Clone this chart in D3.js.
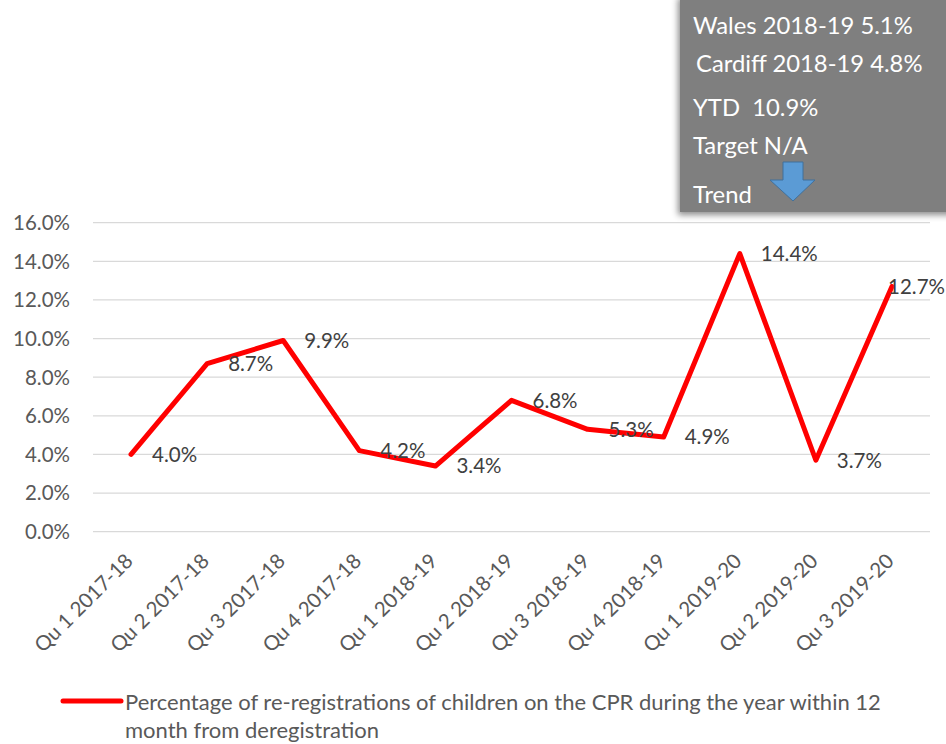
<!DOCTYPE html>
<html><head><meta charset="utf-8">
<script src="https://cdn.jsdelivr.net/npm/d3@7"></script>
<style>body{margin:0;background:#fff;}svg{display:block;font-family:Lato,"Open Sans",sans-serif;}</style>
</head><body>
<svg id="c" width="946" height="744"></svg>
<script>
const categories = ["Qu 1 2017-18","Qu 2 2017-18","Qu 3 2017-18","Qu 4 2017-18","Qu 1 2018-19","Qu 2 2018-19","Qu 3 2018-19","Qu 4 2018-19","Qu 1 2019-20","Qu 2 2019-20","Qu 3 2019-20"];
const values = [4.0, 8.7, 9.9, 4.2, 3.4, 6.8, 5.3, 4.9, 14.4, 3.7, 12.7];
const yTicks = [0,2,4,6,8,10,12,14,16];
const seriesName = ["Percentage of re-registrations of children on the CPR during the year within 12","month from deregistration"];
const infoLines = ["Wales 2018-19 5.1%","Cardiff 2018-19 4.8%","YTD  10.9%","Target N/A","Trend"];

const svg = d3.select("#c");
const x = d3.scaleBand().domain(categories).range([93, 930]);
const y = d3.scaleLinear().domain([0,16]).range([531.7, 222.7]);

// gridlines
svg.append("g").selectAll("line").data(yTicks).join("line")
  .attr("x1",93).attr("x2",930).attr("y1",d=>y(d)).attr("y2",d=>y(d))
  .attr("stroke","#d9d9d9").attr("stroke-width",1.3);

// y labels
svg.append("g").selectAll("text").data(yTicks).join("text")
  .attr("x",70).attr("y",d=>y(d)).attr("dy","0.36em").attr("text-anchor","end")
  .attr("fill","#595959").attr("font-size",20.5).text(d=>d.toFixed(1)+"%");

// x labels
svg.append("g").selectAll("text").data(categories).join("text")
  .attr("transform",d=>`translate(${x(d)+x.bandwidth()/2-2},${557}) rotate(-45)`)
  .attr("text-anchor","end").attr("dy","0.36em")
  .attr("fill","#595959").attr("font-size",20.5).text(d=>d);

// line
const cx = (d,i)=>x(categories[i])+x.bandwidth()/2;
svg.append("path").datum(values)
  .attr("d", d3.line().x((d,i)=>cx(d,i)).y(d=>y(d)))
  .attr("fill","none").attr("stroke","#ff0000").attr("stroke-width",5)
  .attr("stroke-linejoin","round").attr("stroke-linecap","round");

// data labels
svg.append("g").selectAll("text").data(values).join("text")
  .attr("x",(d,i)=>cx(d,i)+21).attr("y",d=>y(d)).attr("dy","0.36em")
  .attr("fill","#404040").attr("font-size",20.5).text(d=>d.toFixed(1)+"%")
  .each(function(){
    const w = this.getComputedTextLength();
    const x0 = +this.getAttribute("x");
    if (x0 + w > 945) this.setAttribute("x", 945 - w);
  });

// legend
svg.append("line").attr("x1",63).attr("x2",121).attr("y1",701).attr("y2",701)
  .attr("stroke","#ff0000").attr("stroke-width",5).attr("stroke-linecap","round");
svg.append("g").selectAll("text").data(seriesName).join("text")
  .attr("x",125).attr("y",(d,i)=>702+i*28).attr("dy","0.36em")
  .attr("fill","#595959").attr("font-size",22).text(d=>d);

// info box
const defs = svg.append("defs");
const f = defs.append("filter").attr("id","sh").attr("x","-10%").attr("y","-10%").attr("width","130%").attr("height","130%");
f.append("feDropShadow").attr("dx",-2).attr("dy",3).attr("stdDeviation",3).attr("flood-color","#000").attr("flood-opacity",0.45);
svg.append("rect").attr("x",680).attr("y",-5).attr("width",280).attr("height",217)
  .attr("fill","#7f7f7f").attr("filter","url(#sh)");
const infoY = [25,63,107,145,194];
const infoX = [693,696,693,693,693];
svg.append("g").selectAll("text").data(infoLines).join("text")
  .attr("x",(d,i)=>infoX[i]).attr("y",(d,i)=>infoY[i]).attr("dy","0.36em")
  .attr("fill","#fff").attr("font-size",23.8).style("white-space","pre").text(d=>d);
// arrow
svg.append("path")
  .attr("d","M783,162 L803,162 L803,180 L815,180 L793,201 L770,180 L783,180 Z")
  .attr("fill","#5b9bd5").attr("stroke","#41719c").attr("stroke-width",1);
</script>
</body></html>
